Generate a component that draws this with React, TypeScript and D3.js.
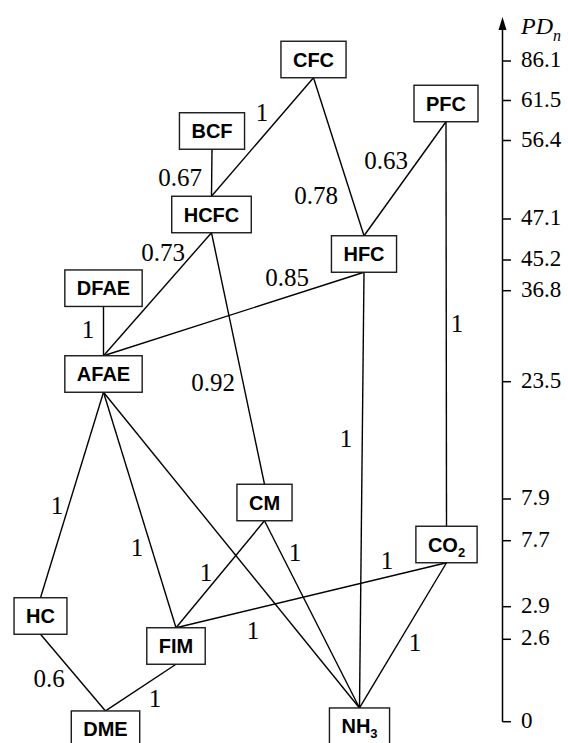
import React from "react";
import * as d3 from "d3";

// ---------- data ----------
const tickLabels = ["86.1", "61.5", "56.4", "47.1", "45.2", "36.8", "23.5", "7.9", "7.7", "2.9", "2.6", "0"];

const nodeNames = ["CFC", "PFC", "BCF", "HCFC", "HFC", "DFAE", "AFAE", "CM", "CO2", "HC", "FIM", "DME", "NH3"];
const nodeLevels = ["86.1", "61.5", "56.4", "47.1", "45.2", "36.8", "23.5", "7.9", "7.7", "2.9", "2.6", "0", "0"];

const edgeFrom = ["CFC", "CFC", "PFC", "PFC", "BCF", "HCFC", "HCFC", "HFC", "HFC", "DFAE", "AFAE", "AFAE", "AFAE", "CM", "CM", "CO2", "CO2", "HC", "FIM"];
const edgeTo = ["HCFC", "HFC", "HFC", "CO2", "HCFC", "AFAE", "CM", "AFAE", "NH3", "AFAE", "HC", "FIM", "NH3", "FIM", "NH3", "FIM", "NH3", "DME", "DME"];
const edgeWeights = ["1", "0.78", "0.63", "1", "0.67", "0.73", "0.92", "0.85", "1", "1", "1", "1", "1", "1", "1", "1", "1", "0.6", "1"];

// ---------- layout (positions only) ----------
const W = 568;
const H = 743;
const axisX = 502.5;
const tickPx = [61, 100.5, 140.5, 219, 260, 290.7, 381.7, 499, 540.7, 606.7, 639.3, 721.7];
const nodeX = [313.5, 446, 212, 211.5, 364, 103.5, 103.5, 264.5, 446.5, 40.5, 176, 105.5, 359.5];
const nodeNudge = [-1.5, 3, -9.5, -4.5, -6, -2.5, -7.7, 3.5, 3.8, 9.3, 6.7, 7.5, 4.5];
const labelPos: [number, number][] = [
  [262, 112], [316, 195], [386, 160], [457, 323], [180, 177], [163, 252], [213, 382],
  [287, 277], [346, 438], [88, 329], [57, 505], [137, 547], [253, 630], [206, 572],
  [295, 552], [387, 560], [415, 642], [49, 678], [155, 698],
];

const BOX_H = 36.5;
const PAD = 12;
const NODE_FONT = 20;
const SUB_FONT = 13;
const SANS = '"Liberation Sans", Arial, sans-serif';
const SERIF = '"Liberation Serif", "Times New Roman", serif';

let ctx: CanvasRenderingContext2D | null = null;
function measure(text: string, size: number): number {
  if (!ctx) ctx = document.createElement("canvas").getContext("2d");
  if (!ctx) return text.length * size * 0.7;
  ctx.font = `bold ${size}px ${SANS}`;
  return ctx.measureText(text).width;
}

function splitLabel(name: string): [string, string] {
  const m = name.match(/^(.*?)(\d+)$/);
  return m ? [m[1], m[2]] : [name, ""];
}

const serifStyle: React.CSSProperties = { fontFamily: SERIF };
const sansStyle: React.CSSProperties = { fontFamily: SANS, fontWeight: 700 };

export default function App() {
  const yScale = d3.scaleOrdinal<string, number>().domain(tickLabels).range(tickPx);

  const nodes = nodeNames.map((name, i) => {
    const [main, sub] = splitLabel(name);
    const w = measure(main, NODE_FONT) + (sub ? measure(sub, SUB_FONT) : 0) + 2 * PAD;
    const cx = nodeX[i];
    const cy = yScale(nodeLevels[i]) + nodeNudge[i];
    return { name, main, sub, w, cx, cy, top: cy - BOX_H / 2, bottom: cy + BOX_H / 2 };
  });
  const byName = new Map(nodes.map((n) => [n.name, n]));

  const edges = edgeFrom.map((f, i) => {
    const a = byName.get(f)!;
    const b = byName.get(edgeTo[i])!;
    return { x1: a.cx, y1: a.bottom, x2: b.cx, y2: b.top, label: edgeWeights[i], lp: labelPos[i] };
  });

  const axisTop = 29;
  const axisBottom = yScale("0");

  return (
    <svg
      width={W}
      height={H}
      viewBox={`0 0 ${W} ${H}`}
      style={{ position: "absolute", left: 0, top: 0, background: "#fff" }}
    >
      {/* edges */}
      <g stroke="#000" strokeWidth={1.4} fill="none">
        {edges.map((e, i) => (
          <line key={i} x1={e.x1} y1={e.y1} x2={e.x2} y2={e.y2} />
        ))}
      </g>
      {/* edge labels */}
      <g style={serifStyle} fontSize={25} fill="#000" textAnchor="middle">
        {edges.map((e, i) => (
          <text key={i} x={e.lp[0]} y={e.lp[1] + 8.5} style={serifStyle}>
            {e.label}
          </text>
        ))}
      </g>
      {/* nodes */}
      <g>
        {nodes.map((n) => (
          <g key={n.name}>
            <rect
              x={n.cx - n.w / 2}
              y={n.top}
              width={n.w}
              height={BOX_H}
              fill="#fff"
              stroke="#1a1a1a"
              strokeWidth={1.4}
            />
            <text x={n.cx} y={n.cy + 7} textAnchor="middle" style={sansStyle} fontSize={NODE_FONT} fill="#000">
              {n.main}
              {n.sub && (
                <tspan fontSize={SUB_FONT} dy={5}>
                  {n.sub}
                </tspan>
              )}
            </text>
          </g>
        ))}
      </g>
      {/* axis */}
      <g stroke="#000" strokeWidth={1.5} fill="none">
        <line x1={axisX} y1={axisTop} x2={axisX} y2={axisBottom} />
        {tickLabels.map((t) => (
          <line key={t} x1={axisX} y1={yScale(t)} x2={axisX + 8.5} y2={yScale(t)} />
        ))}
      </g>
      <path d={`M${axisX},17 L${axisX + 4},30 L${axisX - 4},30 Z`} fill="#000" />
      <g fontSize={23} fill="#000">
        {tickLabels.map((t) => (
          <text key={t} x={521} y={yScale(t) + 6} style={serifStyle}>
            {t}
          </text>
        ))}
      </g>
      <text x={521} y={34} style={{ ...serifStyle, fontStyle: "italic" }} fontSize={24} fill="#000">
        PD
        <tspan fontSize={16} dy={7}>
          n
        </tspan>
      </text>
    </svg>
  );
}
